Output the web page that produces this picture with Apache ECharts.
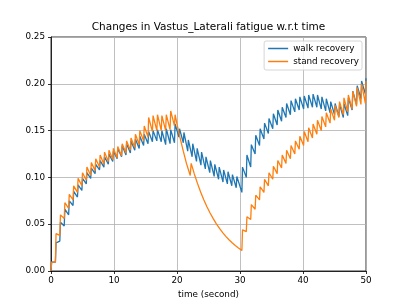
<!DOCTYPE html>
<html>
<head>
<meta charset="utf-8">
<script src="https://cdn.jsdelivr.net/npm/echarts@6/dist/echarts.min.js"></script>
<style>
html,body{margin:0;padding:0;background:#fff;}
#chart{width:407px;height:305px;}
</style>
</head>
<body>
<div id="chart"></div>
<script>
// walk recovery: time (s) and fatigue values (trough, peak pairs per step)
var walkTime = [0.0,0.1,
0.7,0.8,1.4,1.5,2.1,2.2,2.8,2.9,3.5,3.6,4.2,4.3,4.9,5.0,5.6,5.7,6.3,6.4,7.0,7.1,
7.7,7.8,8.4,8.5,9.1,9.2,9.8,9.9,10.5,10.6,11.2,11.3,11.9,12.0,12.6,12.7,13.3,13.4,
14.0,14.1,14.7,14.8,15.4,15.5,16.1,16.2,16.8,16.9,17.5,17.6,18.2,18.3,18.9,19.0,19.6,19.7,
20.3,20.4,21.0,21.1,21.7,21.8,22.4,22.5,23.1,23.2,23.8,23.9,24.5,24.6,25.2,25.3,25.9,26.0,
26.6,26.7,27.3,27.4,28.0,28.1,28.7,28.8,29.4,29.5,
30.3,30.4,31.0,31.1,31.7,31.8,32.4,32.5,33.1,33.2,33.8,33.9,34.5,34.6,35.2,35.3,35.9,36.0,
36.6,36.7,37.3,37.4,38.0,38.1,38.7,38.8,39.4,39.5,40.1,40.2,40.8,40.9,41.5,41.6,42.2,42.3,
42.9,43.0,43.6,43.7,44.3,44.4,45.0,45.1,45.7,45.8,46.4,46.5,47.1,47.2,47.8,47.9,48.5,48.6,
49.2,49.3,49.9,50.0];
var walkFatigue = [0.0,0.0095,
0.0095,0.030,0.032,0.052,0.048,0.066,0.060,0.075,0.070,0.085,0.079,0.092,0.086,0.099,0.093,0.105,0.099,0.110,0.104,0.114,
0.108,0.118,0.111,0.122,0.114,0.125,0.117,0.128,0.120,0.131,0.122,0.134,0.124,0.136,0.126,0.139,0.129,0.141,
0.131,0.144,0.134,0.146,0.136,0.149,0.138,0.150,0.139,0.151,0.138,0.150,0.135,0.152,0.136,0.151,0.137,0.157,
0.143,0.152,0.137,0.148,0.128,0.140,0.122,0.136,0.117,0.131,0.113,0.127,0.109,0.122,0.105,0.118,0.101,0.114,
0.098,0.111,0.095,0.108,0.093,0.106,0.091,0.103,0.089,0.101,
0.084,0.111,0.100,0.124,0.111,0.135,0.125,0.145,0.134,0.152,0.141,0.158,0.147,0.163,0.152,0.168,0.156,0.172,
0.160,0.175,0.164,0.179,0.167,0.182,0.170,0.184,0.172,0.186,0.173,0.187,0.174,0.188,0.175,0.189,0.175,0.188,
0.173,0.186,0.171,0.184,0.169,0.181,0.167,0.179,0.165,0.178,0.164,0.179,0.166,0.185,0.172,0.192,0.178,0.198,
0.184,0.203,0.189,0.206];

// stand recovery
var standTime = [0.0,0.1,
0.7,0.8,1.4,1.5,2.1,2.2,2.8,2.9,3.5,3.6,4.2,4.3,4.9,5.0,5.6,5.7,6.3,6.4,7.0,7.1,
7.7,7.8,8.4,8.5,9.1,9.2,9.8,9.9,10.5,10.6,11.2,11.3,11.9,12.0,12.6,12.7,13.3,13.4,
14.0,14.1,14.7,14.8,15.4,15.5,16.1,16.2,16.8,16.9,17.5,17.6,18.2,18.3,18.9,19.0,19.6,19.7,
20.0,20.5,21.0,21.5,22.1,22.25,22.75,23.25,23.75,24.25,24.75,25.25,25.75,26.25,26.75,27.25,
27.75,28.25,28.75,29.25,29.75,
30.3,30.4,31.0,31.1,31.7,31.8,32.4,32.5,33.1,33.2,33.8,33.9,34.5,34.6,35.2,35.3,35.9,36.0,
36.6,36.7,37.3,37.4,38.0,38.1,38.7,38.8,39.4,39.5,40.1,40.2,40.8,40.9,41.5,41.6,42.2,42.3,
42.9,43.0,43.6,43.7,44.3,44.4,45.0,45.1,45.7,45.8,46.4,46.5,47.1,47.2,47.8,47.9,48.5,48.6,
49.2,49.3,49.9,50.0];
var standFatigue = [0.0,0.0095,
0.0095,0.040,0.038,0.060,0.056,0.073,0.067,0.082,0.076,0.091,0.084,0.099,0.091,0.105,0.097,0.111,0.102,0.116,0.107,0.120,
0.111,0.124,0.114,0.127,0.117,0.129,0.119,0.131,0.121,0.133,0.123,0.136,0.126,0.139,0.129,0.142,0.132,0.146,
0.135,0.150,0.139,0.155,0.143,0.164,0.149,0.166,0.150,0.167,0.150,0.166,0.150,0.167,0.151,0.171,0.155,0.167,
0.157,0.142,0.128,0.115,0.102,0.115,0.1037,0.0936,0.0844,0.0761,0.0687,0.0620,0.0559,0.0504,0.0455,0.0410,
0.0370,0.0334,0.0301,0.0272,0.0245,
0.022,0.044,0.042,0.058,0.055,0.071,0.066,0.081,0.076,0.090,0.084,0.098,0.091,0.105,0.098,0.112,0.104,0.118,
0.110,0.124,0.115,0.129,0.120,0.134,0.125,0.139,0.130,0.144,0.134,0.149,0.138,0.153,0.142,0.157,0.146,0.161,
0.150,0.165,0.154,0.169,0.158,0.173,0.161,0.177,0.164,0.181,0.167,0.185,0.170,0.188,0.173,0.192,0.176,0.196,
0.178,0.200,0.179,0.203];

var seriesNames = ['walk recovery', 'stand recovery'];
var seriesColors = ['#1f77b4', '#ff7f0e'];
var chartTitle = 'Changes in Vastus_Laterali fatigue w.r.t time';
var xName = 'time (second)';

function zip(t, v) { var out = []; for (var i = 0; i < t.length; i++) out.push([t[i], v[i]]); return out; }

var FONT = 'DejaVu Sans';
var chart = echarts.init(document.getElementById('chart'), null, {renderer: 'canvas'});
chart.setOption({
  animation: false,
  backgroundColor: '#ffffff',
  title: {
    text: chartTitle, left: 208.5, textAlign: 'center', top: 22, padding: 0,
    textStyle: {fontFamily: FONT, fontSize: 10.5, fontWeight: 'normal', color: '#000'}
  },
  legend: {
    orient: 'vertical', right: 45, top: 41,
    data: seriesNames,
    icon: 'rect', itemWidth: 20, itemHeight: 1.5, itemGap: 2,
    padding: [2, 3, 3, 4],
    borderColor: '#cccccc', borderWidth: 0.8, borderRadius: 2,
    backgroundColor: 'rgba(255,255,255,0.8)',
    textStyle: {fontFamily: FONT, fontSize: 8.8, color: '#000', lineHeight: 11}
  },
  grid: {left: 51, top: 37, width: 315, height: 234, show: true, borderColor: '#000', borderWidth: 0.8, backgroundColor: 'transparent'},
  xAxis: {
    type: 'value', min: 0, max: 50, interval: 10,
    name: xName, nameLocation: 'middle', nameGap: 17,
    nameTextStyle: {fontFamily: FONT, fontSize: 8.8, color: '#000'},
    axisLine: {show: true, onZero: false, lineStyle: {color: '#000', width: 0.8}},
    axisTick: {show: true, length: 3, lineStyle: {color: '#000', width: 0.8}},
    axisLabel: {fontFamily: FONT, fontSize: 8.8, color: '#000', margin: 5},
    splitLine: {show: true, lineStyle: {color: '#b0b0b0', width: 0.8}}
  },
  yAxis: {
    type: 'value', min: 0, max: 0.25, interval: 0.05,
    axisLine: {show: true, onZero: false, lineStyle: {color: '#000', width: 0.8}},
    axisTick: {show: true, length: 3, lineStyle: {color: '#000', width: 0.8}},
    axisLabel: {fontFamily: FONT, fontSize: 8.8, color: '#000', margin: 6,
      formatter: function (v) { return v.toFixed(2); }},
    splitLine: {show: true, lineStyle: {color: '#b0b0b0', width: 0.8}}
  },
  series: [
    {name: seriesNames[0], type: 'line', data: zip(walkTime, walkFatigue), symbol: 'none', clip: true,
     color: seriesColors[0], lineStyle: {color: seriesColors[0], width: 1.3}},
    {name: seriesNames[1], type: 'line', data: zip(standTime, standFatigue), symbol: 'none', clip: true,
     color: seriesColors[1], lineStyle: {color: seriesColors[1], width: 1.3}}
  ]
});
</script>
</body>
</html>
